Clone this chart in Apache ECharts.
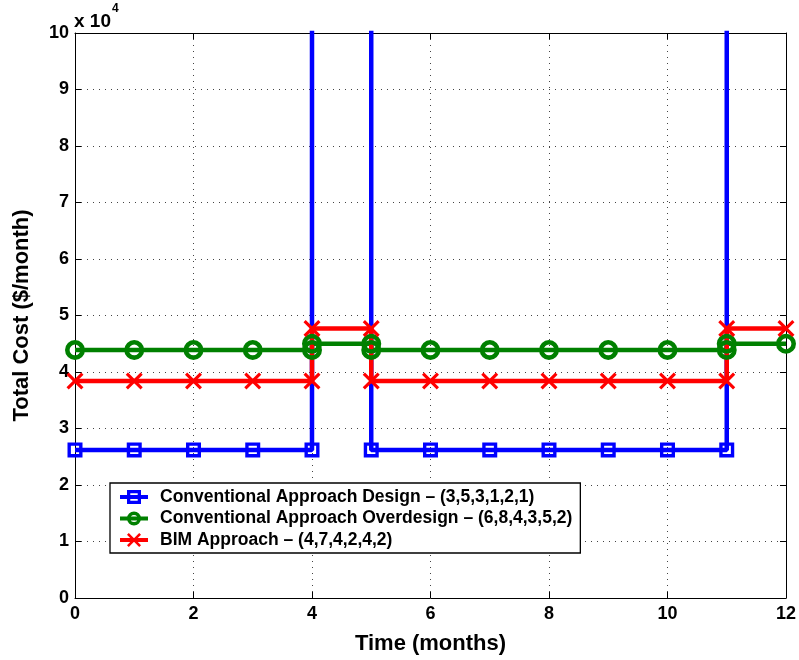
<!DOCTYPE html>
<html>
<head>
<meta charset="utf-8">
<script src="https://cdn.jsdelivr.net/npm/echarts@6/dist/echarts.min.js"></script>
<style>
  html, body { margin: 0; padding: 0; background: #fff; }
  #chart { width: 799px; height: 660px; }
</style>
</head>
<body>
<div id="chart"></div>
<script>
// Month of each step point (repeated months mark a jump in cost)
const months = [0, 1, 2, 3, 4, 4, 5, 5, 6, 7, 8, 9, 10, 11, 11, 12];

// Monthly cost in $ for each approach
const costDesign     = [26200, 26200, 26200, 26200, 26200, 300000, 300000, 26200, 26200, 26200, 26200, 26200, 26200, 26200, 300000, 300000];
const costOverdesign = [43900, 43900, 43900, 43900, 43900, 45000, 45000, 43900, 43900, 43900, 43900, 43900, 43900, 43900, 45000, 45000];
const costBIM        = [38400, 38400, 38400, 38400, 38400, 47700, 47700, 38400, 38400, 38400, 38400, 38400, 38400, 38400, 47700, 47700];

const seriesNames = [
  'Conventional Approach Design \u2013 (3,5,3,1,2,1)',
  'Conventional Approach Overdesign \u2013 (6,8,4,3,5,2)',
  'BIM Approach \u2013 (4,7,4,2,4,2)'
];

const xTicks = [0, 2, 4, 6, 8, 10, 12];
const yTicks = [0, 1, 2, 3, 4, 5, 6, 7, 8, 9, 10];

const SCALE = 1e4;
const pairs = vals => months.map((m, i) => [m, vals[i] / SCALE]);

const FONT = '"Liberation Sans", Arial, Helvetica, sans-serif';

// Open (unfilled) markers so the line shows through them
const squareRing = 'path://M0,0 L20,0 L20,20 L0,20 Z M4.5,4.5 L4.5,15.5 L15.5,15.5 L15.5,4.5 Z';
const circleRing = 'path://M10,0 A10,10 0 1,1 10,20 A10,10 0 1,1 10,0 Z M10,4.6 A5.4,5.4 0 1,0 10,15.4 A5.4,5.4 0 1,0 10,4.6 Z';
const crossPath  = 'path://M2.6,0 L10,7.4 L17.4,0 L20,2.6 L12.6,10 L20,17.4 L17.4,20 L10,12.6 L2.6,20 L0,17.4 L7.4,10 L0,2.6 Z';

// Legend icons: a thick line segment with the series marker in the middle (28 x 14 box)
const lineBar = 'M0,5 L28,5 L28,9 L0,9 Z ';
const iconSquare = 'path://' + lineBar + 'M7,0 L21,0 L21,14 L7,14 Z M10.3,3.3 L10.3,10.7 L17.7,10.7 L17.7,3.3 Z';
const iconCircle = 'path://' + lineBar + 'M14,0 A7,7 0 1,1 14,14 A7,7 0 1,1 14,0 Z M14,3.4 A3.6,3.6 0 1,0 14,10.6 A3.6,3.6 0 1,0 14,3.4 Z';
const iconCross  = 'path://' + lineBar + 'M8.8,0 L14,5.2 L19.2,0 L21,1.8 L15.8,7 L21,12.2 L19.2,14 L14,8.8 L8.8,14 L7,12.2 L12.2,7 L7,1.8 Z';

const chart = echarts.init(document.getElementById('chart'), null, { renderer: 'canvas' });

const gridLine = { show: true, lineStyle: { color: '#444', width: 1, type: [1, 5] } };
const tickLabel = { color: '#000', fontWeight: 'bold', fontSize: 18, fontFamily: FONT };
const titleStyle = { fontFamily: FONT, fontWeight: 'bold', fontSize: 22, color: '#000' };
const frameLine = { show: true, onZero: false, lineStyle: { color: '#000', width: 1 } };
const innerTick = { show: true, inside: true, length: 6, lineStyle: { color: '#000', width: 1 } };

const option = {
  backgroundColor: '#fff',
  animation: false,
  textStyle: { fontFamily: FONT },
  grid: { left: 75, right: 10, top: 33, bottom: 62, containLabel: false },
  legend: {
    orient: 'vertical',
    left: 110,
    top: 483,
    padding: [5, 8, 4, 10],
    itemGap: 3.5,
    itemWidth: 28,
    itemHeight: 14,
    borderColor: '#000',
    borderWidth: 1.3,
    backgroundColor: '#fff',
    textStyle: { fontFamily: FONT, fontWeight: 'bold', fontSize: 17.5, color: '#000', padding: [0, 0, 0, 7] },
    data: [
      { name: seriesNames[0], icon: iconSquare },
      { name: seriesNames[1], icon: iconCircle },
      { name: seriesNames[2], icon: iconCross }
    ]
  },
  xAxis: [
    {
      type: 'value', min: xTicks[0], max: xTicks[xTicks.length - 1], interval: 2,
      position: 'bottom',
      name: 'Time (months)', nameLocation: 'middle', nameGap: 35,
      nameTextStyle: titleStyle,
      axisLine: frameLine,
      axisTick: innerTick,
      axisLabel: Object.assign({ margin: 7 }, tickLabel),
      splitLine: gridLine
    },
    {
      type: 'value', min: xTicks[0], max: xTicks[xTicks.length - 1], interval: 2,
      position: 'top',
      axisLine: frameLine,
      axisTick: innerTick,
      axisLabel: { show: false },
      splitLine: { show: false }
    }
  ],
  yAxis: [
    {
      type: 'value', min: yTicks[0], max: yTicks[yTicks.length - 1], interval: 1,
      position: 'left',
      name: 'Total Cost ($/month)', nameLocation: 'middle', nameGap: 42,
      nameTextStyle: titleStyle,
      axisLine: frameLine,
      axisTick: innerTick,
      axisLabel: Object.assign({ margin: 6 }, tickLabel),
      splitLine: gridLine
    },
    {
      type: 'value', min: yTicks[0], max: yTicks[yTicks.length - 1], interval: 1,
      position: 'right',
      axisLine: frameLine,
      axisTick: innerTick,
      axisLabel: { show: false },
      splitLine: { show: false }
    }
  ],
  graphic: [{
    type: 'text',
    left: 74,
    top: 3,
    style: {
      text: '{b|x 10}{s|4}',
      rich: {
        b: { fontFamily: FONT, fontWeight: 'bold', fontSize: 19, fill: '#000', verticalAlign: 'bottom', lineHeight: 28 },
        s: { fontFamily: FONT, fontWeight: 'bold', fontSize: 12, fill: '#000', verticalAlign: 'top', lineHeight: 28, padding: [0, 0, 12, 1] }
      }
    }
  }],
  series: [
    {
      name: seriesNames[0], type: 'line', data: pairs(costDesign), clip: true,
      color: '#0000ff',
      lineStyle: { width: 4.5, color: '#0000ff' },
      symbol: squareRing, symbolSize: 15, showAllSymbol: true,
      itemStyle: { color: '#0000ff' }
    },
    {
      name: seriesNames[1], type: 'line', data: pairs(costOverdesign), clip: true,
      color: '#008000',
      lineStyle: { width: 4.5, color: '#008000' },
      symbol: circleRing, symbolSize: 20, showAllSymbol: true,
      itemStyle: { color: '#008000' }
    },
    {
      name: seriesNames[2], type: 'line', data: pairs(costBIM), clip: true,
      color: '#ff0000',
      lineStyle: { width: 4.5, color: '#ff0000' },
      symbol: crossPath, symbolSize: 17, showAllSymbol: true,
      itemStyle: { color: '#ff0000' }
    }
  ]
};

chart.setOption(option);
</script>
</body>
</html>
